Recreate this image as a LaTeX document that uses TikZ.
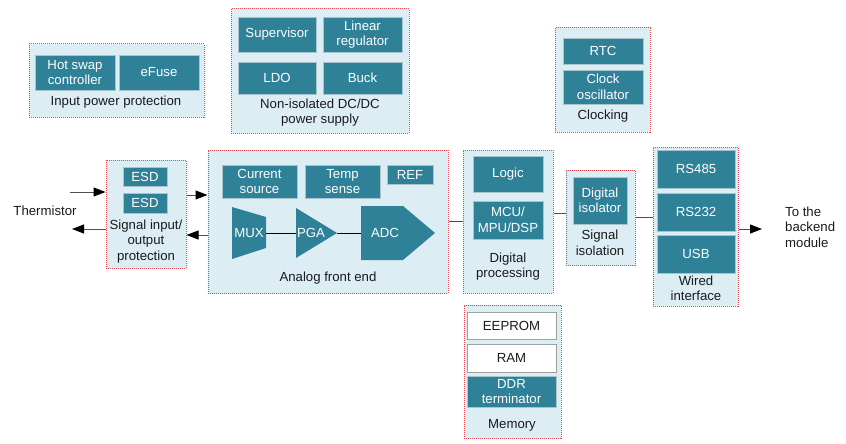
\documentclass[tikz,border=0pt]{standalone}
\usepackage{fontspec}
\setmainfont{Liberation Sans}
\usetikzlibrary{arrows.meta}
\definecolor{tealblk}{HTML}{2E8197}
\definecolor{blkedge}{HTML}{A8C4CC}
\definecolor{bgblue}{HTML}{DCEEF4}
\definecolor{grpred}{HTML}{E04B55}
\definecolor{labelc}{HTML}{1A1A1A}
\definecolor{wirec}{HTML}{505050}
% \rectnode{style}{name}{x1}{y1}{x2}{y2}{text}: a node filling the given corners
\newcommand{\rectnode}[7]{%
  \node[#1, minimum width={(#5)-(#3)}, minimum height={(#6)-(#4)}]
    (#2) at ({((#3)+(#5))/2},{((#4)+(#6))/2}) {#7};}
\begin{document}
\begin{tikzpicture}[x=1pt,y=-1pt,
  font=\fontsize{13.2}{15.5}\selectfont,
  grp/.style={draw=grpred, dash pattern=on 1pt off 1pt, line width=1pt, fill=bgblue, inner sep=0pt},
  blk/.style={draw=blkedge, line width=0.7pt, fill=tealblk, text=white, inner sep=0pt, align=center},
  mem/.style={draw=gray!75, line width=1pt, fill=white, text=labelc, inner sep=0pt, align=center},
  lbl/.style={text=labelc, align=center, inner sep=0pt},
  wire/.style={draw=wirec, line width=1pt},
  arr/.style={wire, -{Triangle[length=12pt,width=9pt,color=black]}},
  shp/.style={fill=tealblk, draw=none}]
\useasboundingbox (0,0) rectangle (846,444);

% Input power protection
\rectnode{grp}{ipp}{29}{44}{204}{117}{}
\rectnode{blk}{hotswap}{35}{55}{115}{90}{Hot swap\\controller}
\rectnode{blk}{efuse}{119}{55}{199}{90}{eFuse}
\node[lbl] (ipplbl) at (116,102) {Input power protection};

% Non-isolated DC/DC power supply
\rectnode{grp}{psu}{231}{9}{409}{133}{}
\rectnode{blk}{superv}{238}{17}{316}{52}{Supervisor}
\rectnode{blk}{linreg}{323}{17}{402}{52}{Linear\\regulator}
\rectnode{blk}{ldo}{238}{62}{316}{94}{LDO}
\rectnode{blk}{buck}{323}{62}{402}{94}{Buck}
\node[lbl] (psulbl) at (320,112.5) {Non-isolated DC/DC\\power supply};

% Clocking
\rectnode{grp}{clk}{555}{28}{650}{132}{}
\rectnode{blk}{rtc}{563}{38}{643}{64}{RTC}
\rectnode{blk}{osc}{563}{70}{643}{104}{Clock\\oscillator}
\node[lbl] (clklbl) at (603,116) {Clocking};

% Signal input/output protection
\rectnode{grp}{sig}{106}{160}{186}{268}{}
\rectnode{blk}{esda}{123}{167}{167}{186}{ESD}
\rectnode{blk}{esdb}{123}{193}{167}{213}{ESD}
\node[lbl] (siglbl) at (146,241.5) {Signal input/\\output\\protection};

% Analog front end
\rectnode{grp}{afe}{208}{150}{448}{293}{}
\rectnode{blk}{isrc}{222}{165}{297}{198}{Current\\source}
\rectnode{blk}{tsense}{305}{165}{380}{198}{Temp\\sense}
\rectnode{blk}{ref}{387}{165}{433}{184}{REF}
\fill[shp] (232,207) -- (266,217) -- (266,248) -- (232,259) -- cycle;
\fill[shp] (296,208) -- (337,233) -- (296,258) -- cycle;
\fill[shp] (361,206) -- (403,206) -- (435,233) -- (403,260) -- (361,260) -- cycle;
\coordinate (muxout) at (266,233);
\coordinate (pgain) at (296,233);
\coordinate (pgaout) at (337,233);
\coordinate (adcin) at (361,233);
\draw[draw=black, line width=0.9pt] (muxout) -- (pgain);
\draw[draw=black, line width=0.9pt] (pgaout) -- (adcin);
\node[lbl, text=white] (mux) at (249,233) {MUX};
\node[lbl, text=white] (pga) at (311,233) {PGA};
\node[lbl, text=white] (adc) at (385,233) {ADC};
\node[lbl] (afelbl) at (328,278) {Analog front end};

% Digital processing
\rectnode{grp}{dig}{463}{150}{553}{293}{}
\rectnode{blk}{logic}{473}{156}{543}{192}{Logic}
\rectnode{blk}{mcu}{473}{201}{543}{239}{MCU/\\MPU/DSP}
\node[lbl] (diglbl) at (508,266.5) {Digital\\processing};

% Signal isolation
\rectnode{grp}{iso}{566}{170}{635}{265}{}
\rectnode{blk}{digiso}{573}{177}{627}{224}{Digital\\isolator}
\node[lbl] (isolbl) at (600,243) {Signal\\isolation};

% Wired interface
\rectnode{grp}{wired}{653}{147}{738}{306}{}
\rectnode{blk}{rs485}{657}{150}{735}{188}{RS485}
\rectnode{blk}{rs232}{657}{193}{735}{231}{RS232}
\rectnode{blk}{usb}{657}{235}{735}{273}{USB}
\node[lbl] (wiredlbl) at (696,288.5) {Wired\\interface};

% Memory
\rectnode{grp}{memgrp}{464}{305}{561}{438}{}
\rectnode{mem}{eeprom}{467}{312}{556}{339}{EEPROM}
\rectnode{mem}{ram}{467}{344}{556}{372}{RAM}
\rectnode{blk}{ddr}{467}{376}{556}{407}{DDR\\terminator}
\node[lbl] (memlbl) at (512,425) {Memory};

% Outside labels
\node[lbl] (therm) at (45,211) {Thermistor};
\node[lbl, align=left, anchor=west] (backend) at (785,227) {To the\\backend\\module};

% Connectors
\coordinate (thin) at (70,192);
\coordinate (thout) at (72,229);
\coordinate (bkout) at (762,229);
\draw[arr] (thin) -- (thin -| sig.west);
\draw[arr] (thout -| sig.west) -- (thout);
\draw[arr] (sig.east |- 0,195) -- (afe.west |- 0,195);
\draw[arr] (afe.west |- 0,235) -- (sig.east |- 0,235);
\draw[wire] (afe.east |- 0,221) -- (dig.west |- 0,221);
\draw[wire] (dig.east |- 0,213) -- (iso.west |- 0,213);
\draw[wire] (iso.east |- 0,217) -- (wired.west |- 0,217);
\draw[arr] (wired.east |- bkout) -- (bkout);
\end{tikzpicture}
\end{document}
